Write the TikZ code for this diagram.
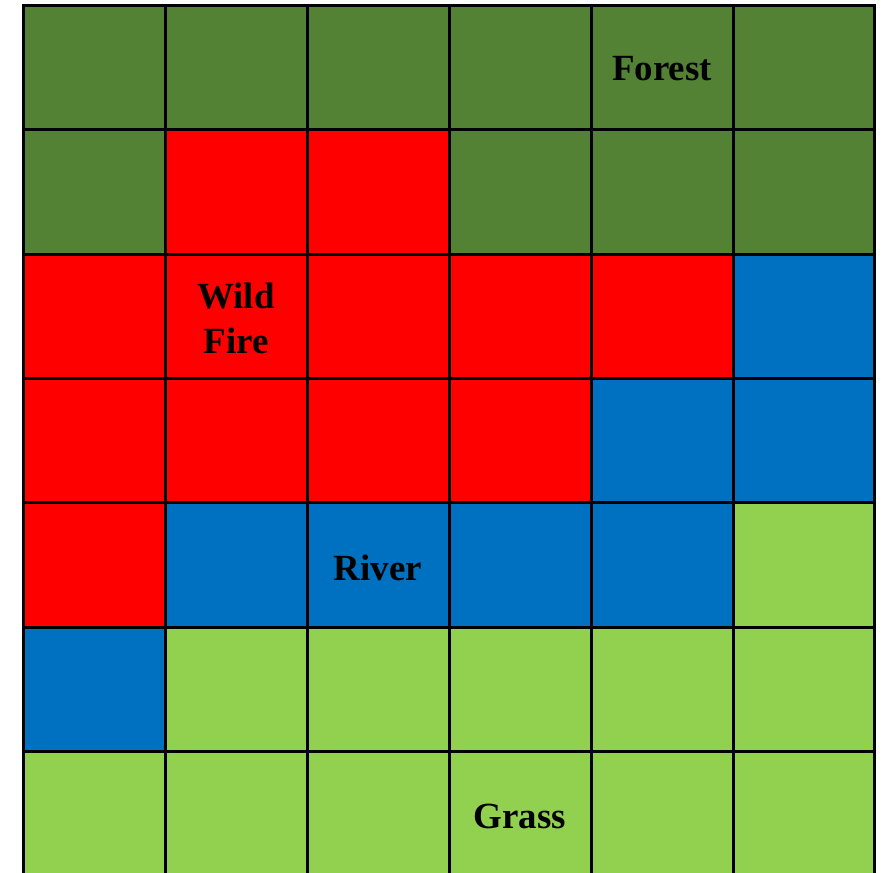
\documentclass[tikz,border=0pt]{standalone}
\usepackage{fontspec}
\setmainfont{Liberation Serif}
\definecolor{colF}{HTML}{548235}
\definecolor{colR}{HTML}{FF0000}
\definecolor{colB}{HTML}{0070C0}
\definecolor{colG}{HTML}{92D050}

\begin{document}
\begin{tikzpicture}[
    x=0.02cm, y=-0.02cm,
    cellline/.style={draw=black, line width=1.7pt},
    lbl/.style={align=center, font=\fontsize{21}{25.5}\selectfont\bfseries, text=black}
]

% fixed frame, same size as the reference
\useasboundingbox (0,0) rectangle (884,872);

% Map cells (F forest, R fire, B river, G grass)
\foreach \row [count=\r from 0] in {{F,F,F,F,F,F},{F,R,R,F,F,F},{R,R,R,R,R,B},{R,R,R,R,B,B},{R,B,B,B,B,G},{B,G,G,G,G,G},{G,G,G,G,G,G}}{
    \foreach \c [count=\k from 0] in \row {
        \fill[col\c] ({23.5+\k*141.9},{5.5+\r*124.3}) rectangle ++(141.9,124.3);
    }
}

% Grid lines
\foreach \r in {0,...,6}{
    \foreach \k in {0,...,5}{
        \draw[cellline] ({23.5+\k*141.9},{5.5+\r*124.3}) rectangle ++(141.9,124.3);
    }
}

% Labels
\node[lbl] (forest) at (662,69) {Forest};
\node[lbl] (fire) at (236,318) {Wild\\Fire};
\node[lbl] (river) at (378,568) {River};
\node[lbl] (grass) at (520,816) {Grass};

\end{tikzpicture}
\end{document}
